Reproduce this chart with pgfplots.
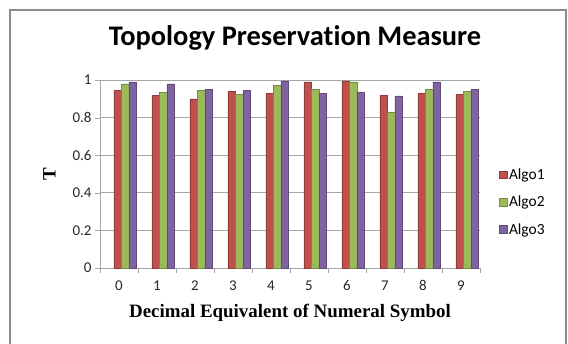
\documentclass[border=0pt]{standalone}
\usepackage{pgfplots}
\pgfplotsset{compat=1.18}
\usepackage{fontspec}
\setmainfont[RawFeature={-liga}]{Carlito}
\newfontfamily\tnr{Liberation Serif}
\definecolor{algoA}{HTML}{C0504D}
\definecolor{algoB}{HTML}{9BBB59}
\definecolor{algoC}{HTML}{8064A2}
\definecolor{gridc}{HTML}{A6A6A6}
\definecolor{framec}{HTML}{8C8C8C}
\begin{document}
\begin{tikzpicture}[x=1bp,y=1bp]
\useasboundingbox (0,0) rectangle (568,343);
\draw[framec, line width=1.2bp] (10,-2) rectangle (566,333);
\node[font=\fontsize{28.5}{32}\selectfont\bfseries] at (295,305) {Topology Preservation Measure};
\begin{axis}[
  at={(100bp,75bp)}, anchor=south west,
  scale only axis, width=380bp, height=188bp,
  ybar=0pt, bar width=7.5bp,
  xmin=-0.5, xmax=9.5, ymin=0, ymax=1,
  axis x line*=bottom, axis y line*=left,
  axis line style={gridc, line width=0.8bp},
  xtick={0,...,9},
  major x tick style={draw=none},
  minor xtick={-0.5,0.5,...,9.5},
  minor x tick style={gridc},
  ytick={0,0.2,0.4,0.6,0.8,1},
  yticklabels={0,0.2,0.4,0.6,0.8,1},
  y tick style={gridc},
  tick align=outside,
  major tick length=5bp, minor tick length=5bp,
  ymajorgrids, major grid style={gridc, line width=0.8bp},
  tick label style={font=\fontsize{15}{17}\selectfont, text=black!85},
  /pgf/number format/assume math mode=true,
  xticklabel style={yshift=-4bp},
  xlabel={\tnr\bfseries Decimal Equivalent of Numeral Symbol},
  xlabel style={font=\fontsize{19}{22}\selectfont, yshift=-6bp},
  ylabel={\tnr\bfseries T},
  ylabel style={font=\fontsize{19}{22}\selectfont, yshift=10bp},
  legend style={at={(1.05,0.35)}, anchor=west, draw=none, fill=none, inner sep=0pt,
    font=\fontsize{15.5}{17}\selectfont, row sep=11bp,
    /tikz/every even column/.append style={column sep=3bp}},
  legend image code/.code={\fill[#1] (0bp,-3.5bp) rectangle (7.5bp,4bp);},
]
\addplot[fill=algoA, draw=algoA!75!black, line width=0.3bp, bar shift=-1.5bp] coordinates {
(0,0.945) (1,0.92) (2,0.90) (3,0.94) (4,0.93) (5,0.99) (6,0.995) (7,0.92) (8,0.93) (9,0.925)};
\addplot[fill=algoB, draw=algoB!75!black, line width=0.3bp, bar shift=6bp] coordinates {
(0,0.98) (1,0.935) (2,0.945) (3,0.925) (4,0.97) (5,0.95) (6,0.99) (7,0.83) (8,0.95) (9,0.94)};
\addplot[fill=algoC, draw=algoC!75!black, line width=0.3bp, bar shift=13.5bp] coordinates {
(0,0.99) (1,0.98) (2,0.95) (3,0.945) (4,0.995) (5,0.93) (6,0.935) (7,0.915) (8,0.99) (9,0.95)};
\legend{Algo1,Algo2,Algo3}
\end{axis}
\end{tikzpicture}
\end{document}
